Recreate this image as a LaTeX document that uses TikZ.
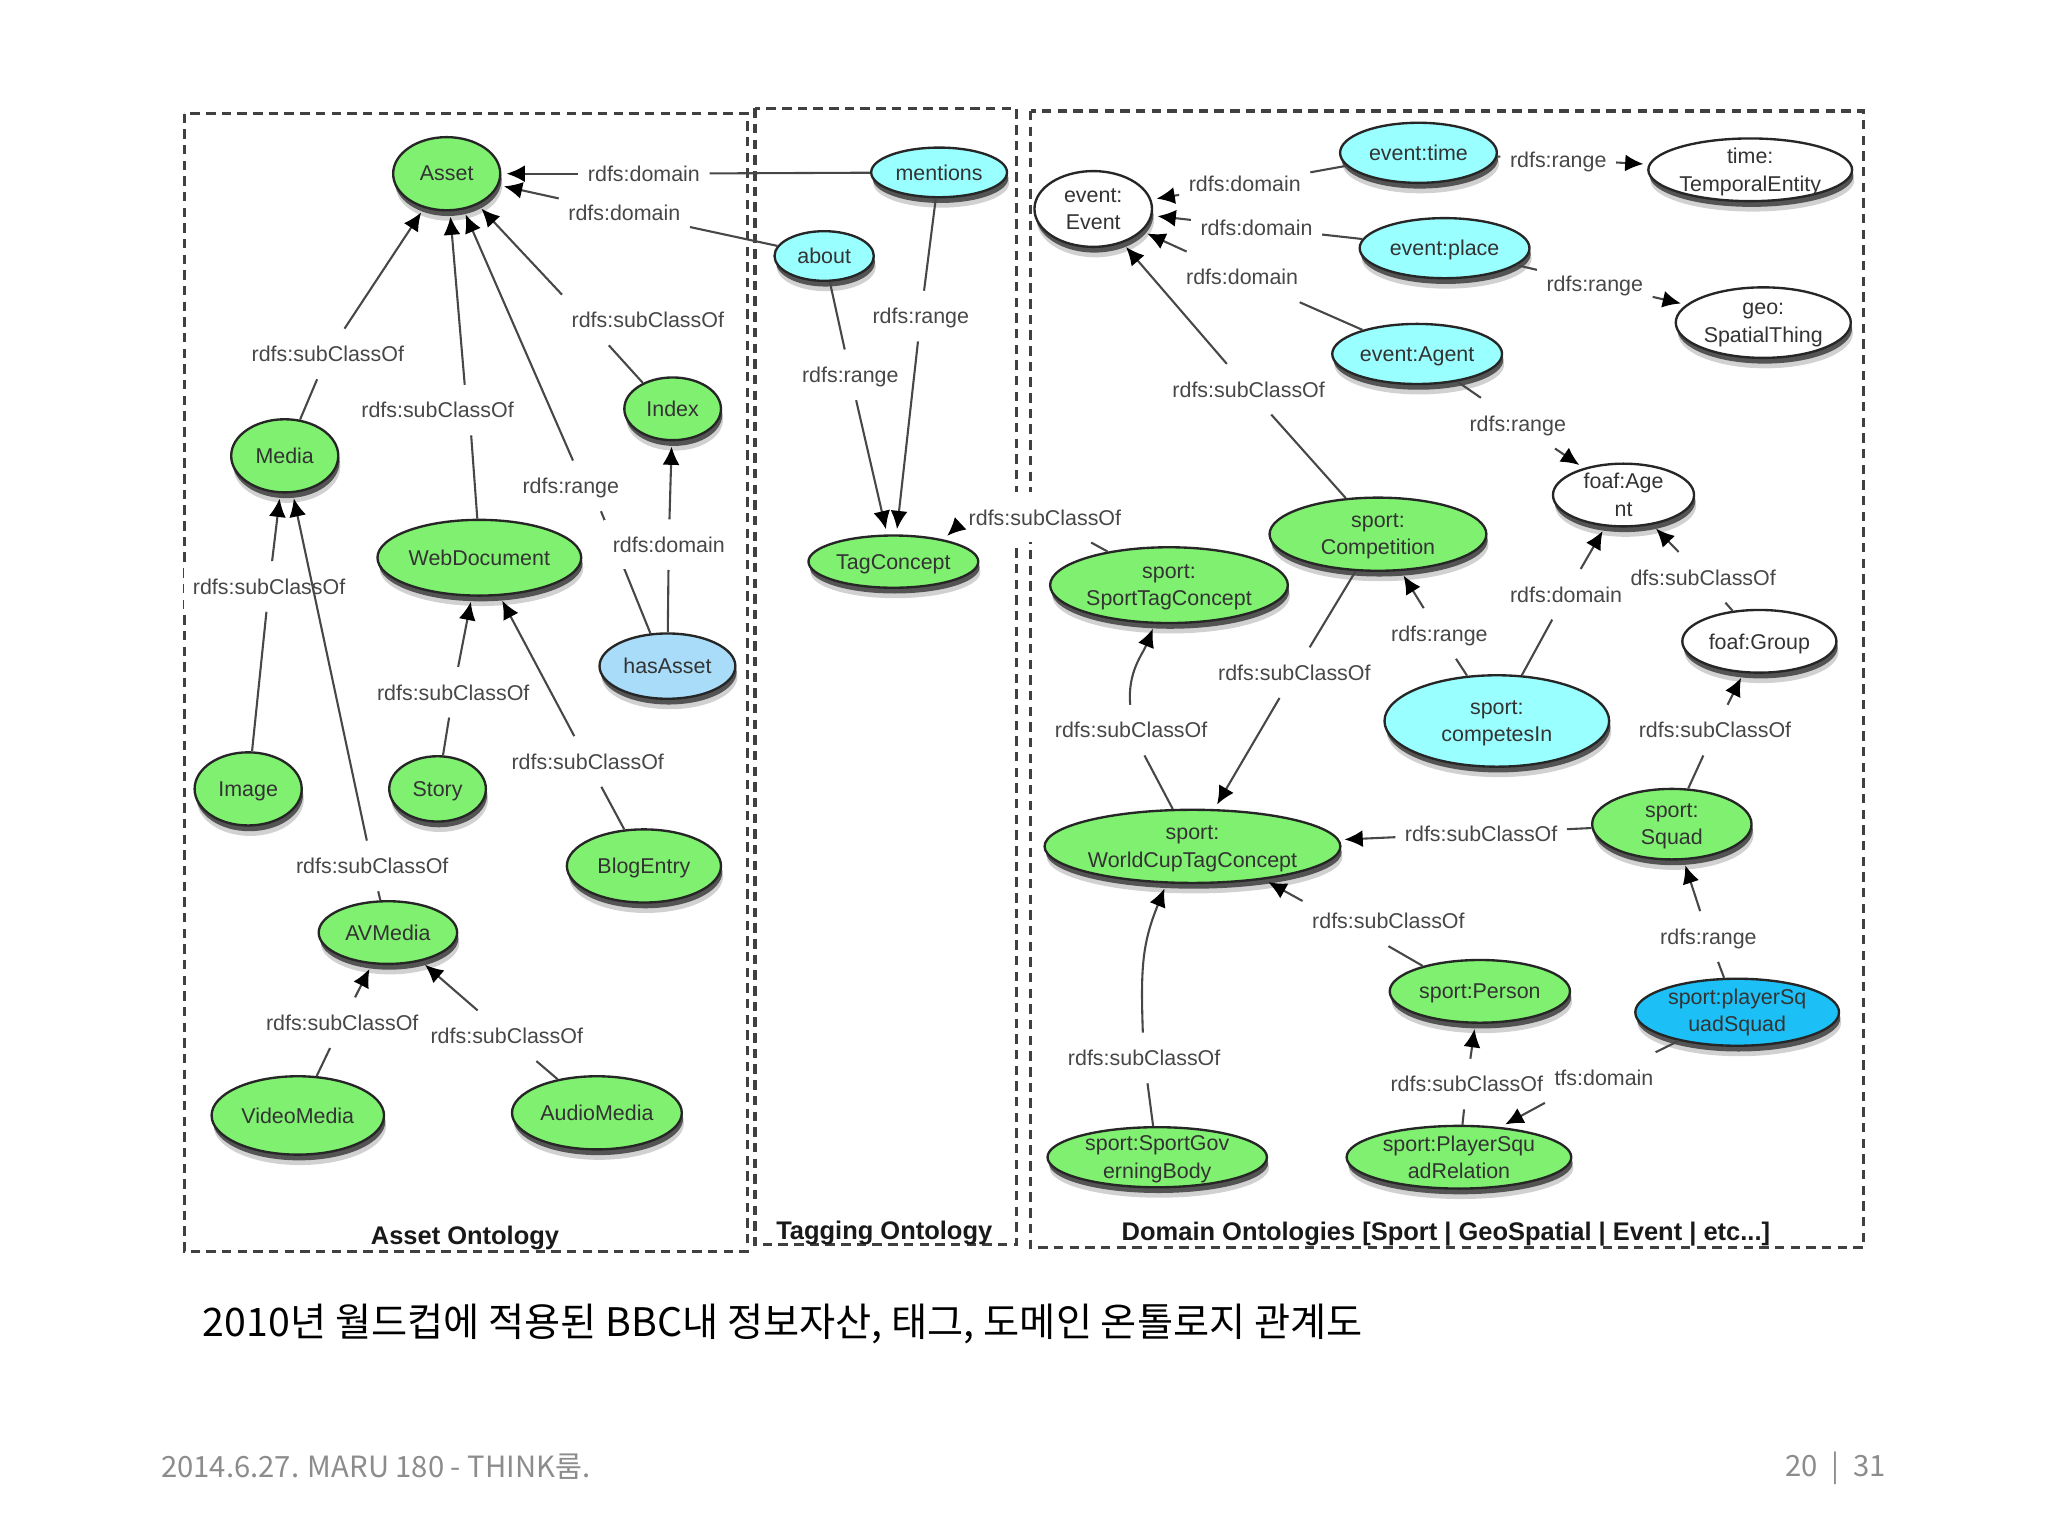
\documentclass[tikz,border=0pt]{standalone}
\usepackage{fontspec}
\setmainfont{Liberation Sans}
\newfontfamily\cjk{Noto Sans CJK KR}
\usetikzlibrary{arrows.meta,shapes.geometric,shadows}
\definecolor{ovalgreen}{HTML}{80F070}
\definecolor{ovalcyan}{HTML}{99FFFF}
\definecolor{ovalblue}{HTML}{A8DCF8}
\definecolor{ovaldeep}{HTML}{1CC0F6}
\tikzset{
    oval/.style 2 args={ellipse,draw=black!85,line width=0.9pt,inner sep=0pt,align=center,
        minimum width=#1*0.5pt,minimum height=#2*0.5pt,text=black!80,
        font=\fontsize{8.2}{10.5}\selectfont,
        drop shadow={shadow xshift=0.8pt,shadow yshift=-4pt,fill=black,opacity=0.18},
        drop shadow={shadow xshift=0.5pt,shadow yshift=-2.2pt,fill=black,opacity=0.6}},
    lab/.style={fill=white,inner ysep=0pt,inner xsep=3.5pt,minimum height=19pt,text=black!72,
        text height=7.2pt,text depth=1.2pt,font=\fontsize{8.2}{10.5}\selectfont},
    link/.style={draw=black!72,line width=0.8pt},
    linkto/.style={link,-{Latex[length=7pt,width=6.5pt,black]},shorten >=2pt},
    panel/.style={draw=black!75,line width=1.2pt,dash pattern=on 3.6pt off 2.4pt},
    paneltitle/.style={inner sep=0pt,text=black!90,font=\fontsize{9.75}{12}\selectfont\bfseries},
    slide/.style={inner sep=0pt,anchor=west,font=\cjk\fontsize{15.04}{18}\selectfont},
    slidefoot/.style={slide,text=black!45,font=\cjk\fontsize{11.2}{14}\selectfont}
}
\begin{document}
\begin{tikzpicture}[x=0.5pt,y=-0.5pt]
    \useasboundingbox (0,0) rectangle (1568,1176);
    \draw[panel] (141,87) rectangle (572,958);
    \draw[panel] (578,83) rectangle (778,953);
    \draw[panel] (789,85) rectangle (1427,955);
    \coordinate (hasAssetTop) at (498,485);

    \node[lab] (lMentionsAsset) at (493,133) {rdfs:domain};
    \node[lab] (lAboutAsset) at (478,163) {rdfs:domain};
    \node[lab] (lMediaAsset) at (251,271) {rdfs:subClassOf};
    \node[lab] (lWebAsset) at (335,314) {rdfs:subClassOf};
    \node[lab] (lIndexAsset) at (496,245) {rdfs:subClassOf};
    \node[lab] (lHasRange) at (437,372) {rdfs:range};
    \draw[link] (lHasRange.-40) -- (hasAssetTop);
    \node[lab] (lHasIndex) at (512,417) {rdfs:domain};
    \node[lab] (lImageMedia) at (206,449) {rdfs:subClassOf};
    \node[lab] (lStoryWeb) at (347,530) {rdfs:subClassOf};
    \node[lab] (lBlogWeb) at (450,583) {rdfs:subClassOf};
    \node[lab] (lAVMedia) at (285,663) {rdfs:subClassOf};
    \node[lab] (lVideoAV) at (262,783) {rdfs:subClassOf};
    \node[lab] (lAudioAV) at (388,793) {rdfs:subClassOf};
    \node[lab] (lMentionsTag) at (705,242) {rdfs:range};
    \node[lab] (lAboutTag) at (651,287) {rdfs:range};
    \node[lab] (lSportTag) at (800,396) {rdfs:subClassOf};
    \node[lab] (lTimeEvent) at (953,141) {rdfs:domain};
    \node[lab] (lPlaceEvent) at (962,174) {rdfs:domain};
    \node[lab] (lAgentEvent) at (951,212) {rdfs:domain};
    \node[lab] (lCompEvent) at (956,298) {rdfs:subClassOf};
    \node[lab] (lTimeRange) at (1193,122) {rdfs:range};
    \node[lab] (lPlaceRange) at (1221,217) {rdfs:range};
    \node[lab] (lAgentRange) at (1162,324) {rdfs:range};
    \node[lab] (lCompetesAgent) at (1199,455) {rdfs:domain};
    \node[lab] (lGroupAgent) at (1304,442) {dfs:subClassOf};
    \node[lab] (lCompetesRange) at (1102,485) {rdfs:range};
    \node[lab] (lCompCup) at (991,515) {rdfs:subClassOf};
    \node[lab] (lCupSport) at (866,559) {rdfs:subClassOf};
    \node[lab] (lSquadGroup) at (1313,559) {rdfs:subClassOf};
    \node[lab] (lSquadCup) at (1134,638) {rdfs:subClassOf};
    \node[lab] (lPersonCup) at (1063,705) {rdfs:subClassOf};
    \node[lab] (lPlayerRange) at (1308,717) {rdfs:range};
    \node[lab] (lGovCup) at (876,810) {rdfs:subClassOf};
    \node[lab] (lPlayerDomain) at (1228,825) {tfs:domain};
    \node[lab] (lRelPerson) at (1123,830) {rdfs:subClassOf};

    \node[oval={82}{56},fill=ovalgreen] (Asset) at (342,133) {Asset};
    \node[oval={82}{56},fill=ovalgreen] (Media) at (218,349) {Media};
    \node[oval={156}{58},fill=ovalgreen] (WebDocument) at (367,427) {WebDocument};
    \node[oval={74}{48},fill=ovalgreen] (Index) at (515,313) {Index};
    \node[oval={104}{50},fill=ovalblue] (hasAsset) at (511,510) {hasAsset};
    \node[oval={82}{56},fill=ovalgreen,text depth=0pt] (Image) at (190,604) {Image};
    \node[oval={74}{50},fill=ovalgreen,text depth=0pt] (Story) at (335,604) {Story};
    \node[oval={118}{56},fill=ovalgreen,text depth=0pt] (BlogEntry) at (493,663) {BlogEntry};
    \node[oval={106}{48},fill=ovalgreen] (AVMedia) at (297,714) {AVMedia};
    \node[oval={132}{60},fill=ovalgreen] (VideoMedia) at (228,854) {VideoMedia};
    \node[oval={130}{56},fill=ovalgreen] (AudioMedia) at (457,852) {AudioMedia};
    \node[oval={104}{38},fill=ovalcyan] (mentions) at (719,132) {mentions};
    \node[oval={76}{38},fill=ovalcyan] (about) at (631,196) {about};
    \node[oval={130}{40},fill=ovalgreen,text depth=0pt] (TagConcept) at (684,430) {TagConcept};
    \node[oval={90}{58},fill=white,text depth=-2pt] (Event) at (837,160) {event:\\Event};
    \node[oval={120}{46},fill=ovalcyan] (eventTime) at (1086,117) {event:time};
    \node[oval={156}{48},fill=white,text depth=-0.3pt] (Temporal) at (1340,130) {time:\\TemporalEntity};
    \node[oval={130}{46},fill=ovalcyan,text depth=0pt] (eventPlace) at (1106,190) {event:place};
    \node[oval={134}{54},fill=white,text depth=-1.3pt] (Spatial) at (1350,247) {geo:\\SpatialThing};
    \node[oval={130}{46},fill=ovalcyan,text depth=0pt] (eventAgent) at (1085,271) {event:Agent};
    \node[oval={108}{48},fill=white] (foafAgent) at (1243,379) {foaf:Age\\nt};
    \node[oval={166}{56},fill=ovalgreen,text depth=-3pt] (Competition) at (1055,409) {sport:\\Competition};
    \node[oval={182}{58},fill=ovalgreen,text depth=-1.3pt] (SportTag) at (895,448) {sport:\\SportTagConcept};
    \node[oval={118}{48},fill=white,text depth=0pt] (foafGroup) at (1347,491) {foaf:Group};
    \node[oval={172}{70},fill=ovalcyan,text depth=-2pt] (competesIn) at (1146,552) {sport:\\competesIn};
    \node[oval={122}{54},fill=ovalgreen,text depth=-1.3pt] (Squad) at (1280,631) {sport:\\Squad};
    \node[oval={224}{56},fill=ovalgreen,text depth=-1.3pt] (WorldCup) at (913,648) {sport:\\WorldCupTagConcept};
    \node[oval={138}{48},fill=ovalgreen,text depth=0pt] (Person) at (1133,759) {sport:Person};
    \node[oval={156}{46},fill=ovaldeep] (playerSquad) at (1330,775) {sport:playerSq\\uadSquad};
    \node[oval={168}{46},fill=ovalgreen,text depth=-0.3pt] (Governing) at (886,886) {sport:SportGov\\erningBody};
    \node[oval={172}{48},fill=ovalgreen] (Relation) at (1117,886) {sport:PlayerSqu\\adRelation};

    \draw[link] (mentions) -- (lMentionsAsset);
    \draw[linkto] (lMentionsAsset) -- (Asset);
    \draw[link] (about) -- (lAboutAsset);
    \draw[linkto] (lAboutAsset) -- (Asset);
    \draw[link] (Media) -- (lMediaAsset);
    \draw[linkto] (lMediaAsset) -- (Asset);
    \draw[link] (WebDocument.93) -- (lWebAsset.-37);
    \draw[linkto] (lWebAsset.43) -- (Asset.-85);
    \draw[link] (Index.139) -- (lIndexAsset.-147);
    \draw[linkto] (lIndexAsset.north west) -- (Asset.-45);
    \draw[linkto] (lHasRange.85) -- (Asset.-65);
    \draw[link] (hasAsset) -- (lHasIndex);
    \draw[linkto] (lHasIndex) -- (Index);
    \draw[link] (Image) -- (lImageMedia);
    \draw[linkto] (lImageMedia) -- (Media);
    \draw[link] (AVMedia) -- (lAVMedia);
    \draw[linkto] (lAVMedia) -- (Media);
    \draw[link] (Story) -- (lStoryWeb);
    \draw[linkto] (lStoryWeb) -- (WebDocument);
    \draw[link] (BlogEntry) -- (lBlogWeb);
    \draw[linkto] (lBlogWeb) -- (WebDocument);
    \draw[link] (VideoMedia) -- (lVideoAV);
    \draw[linkto] (lVideoAV) -- (AVMedia);
    \draw[link] (AudioMedia) -- (lAudioAV);
    \draw[linkto] (lAudioAV) -- (AVMedia);
    \draw[link] (mentions) -- (lMentionsTag);
    \draw[linkto] (lMentionsTag) -- (TagConcept);
    \draw[link] (about) -- (lAboutTag);
    \draw[linkto] (lAboutTag) -- (TagConcept);
    \draw[link] (SportTag) -- (lSportTag);
    \draw[linkto] (lSportTag.-175) -- (TagConcept.24);
    \draw[link] (eventTime) -- (lTimeEvent);
    \draw[linkto] (lTimeEvent) -- (Event);
    \draw[link] (eventPlace) -- (lPlaceEvent);
    \draw[linkto] (lPlaceEvent) -- (Event);
    \draw[link] (eventAgent) -- (lAgentEvent);
    \draw[linkto] (lAgentEvent) -- (Event);
    \draw[link] (Competition) -- (lCompEvent);
    \draw[linkto] (lCompEvent) -- (Event);
    \draw[link] (eventTime) -- (lTimeRange);
    \draw[linkto] (lTimeRange) -- (Temporal);
    \draw[link] (eventPlace) -- (lPlaceRange);
    \draw[linkto] (lPlaceRange) -- (Spatial);
    \draw[link] (eventAgent) -- (lAgentRange);
    \draw[linkto] (lAgentRange) -- (foafAgent);
    \draw[link] (competesIn) -- (lCompetesAgent);
    \draw[linkto] (lCompetesAgent) -- (foafAgent);
    \draw[link] (foafGroup) -- (lGroupAgent);
    \draw[linkto] (lGroupAgent) -- (foafAgent);
    \draw[link] (competesIn) -- (lCompetesRange);
    \draw[linkto] (lCompetesRange) -- (Competition);
    \draw[link] (Competition) -- (lCompCup);
    \draw[linkto] (lCompCup) -- (WorldCup);
    \draw[link] (WorldCup) -- (lCupSport);
    \draw[linkto] (lCupSport.92) to[out=95,in=-112] (SportTag.-110);
    \draw[link] (Squad) -- (lSquadGroup);
    \draw[linkto] (lSquadGroup) -- (foafGroup);
    \draw[link] (Squad) -- (lSquadCup);
    \draw[linkto] (lSquadCup) -- (WorldCup);
    \draw[link] (Person.156) -- (lPersonCup.south);
    \draw[linkto] (lPersonCup.167) -- (WorldCup.-25);
    \draw[link] (playerSquad) -- (lPlayerRange);
    \draw[linkto] (lPlayerRange) -- (Squad);
    \draw[link] (Governing) -- (lGovCup);
    \draw[linkto] (lGovCup.93) to[out=92,in=-112,looseness=1.1] (WorldCup.-125);
    \draw[link] (Relation) -- (lRelPerson);
    \draw[linkto] (lRelPerson) -- (Person);
    \draw[link] (playerSquad) -- (lPlayerDomain);
    \draw[linkto] (lPlayerDomain.south west) -- (Relation.36);

    \node[paneltitle] (assetTitle) at (356,948) {Asset Ontology};
    \node[paneltitle] (tagTitle) at (677,944) {Tagging Ontology};
    \node[paneltitle] (domainTitle) at (1107,945) {Domain Ontologies [Sport | GeoSpatial | Event | etc...]};

    \node[slide] (caption) at (155,1014) {2010년 월드컵에 적용된 BBC내 정보자산, 태그, 도메인 온톨로지 관계도};
    \node[slidefoot] (footLeft) at (123,1123) {2014.6.27. MARU 180 - THINK룸.};
    \node[slidefoot,anchor=east] (footRight) at (1444,1124) {20\hspace{2.7pt} | \hspace{2.7pt}31};
\end{tikzpicture}
\end{document}
